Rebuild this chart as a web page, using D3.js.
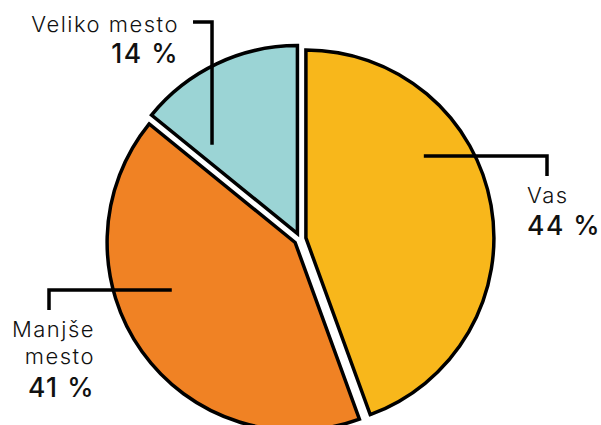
<!DOCTYPE html>
<meta charset="utf-8">
<script src="https://d3js.org/d3.v7.min.js"></script>
<style>
  body { margin: 0; background: #fff; }
  text { font-family: Inter, "Open Sans", sans-serif; fill: #111; }
</style>
<div id="my_dataviz"></div>
<script>

// data
var categories = ["Vas", "Manjše mesto", "Veliko mesto"];
var values = [44, 41, 14];
var valueLabels = ["44 %", "41 %", "14 %"];
var colors = ["#F8B71B", "#F08224", "#9BD4D5"];

var width = 601, height = 425;
var cx = 300, cy = 239, radius = 188, explode = 6;

var svg = d3.select("#my_dataviz")
  .append("svg")
    .attr("width", width)
    .attr("height", height);

var g = svg.append("g")
    .attr("transform", "translate(" + cx + "," + cy + ")");

var pie = d3.pie().sort(null).value(function(d) { return d; });
var arc = d3.arc().innerRadius(0).outerRadius(radius);
var arcs = pie(values);

g.selectAll("path")
  .data(arcs)
  .enter()
  .append("path")
    .attr("d", arc)
    .attr("fill", function(d, i) { return colors[i]; })
    .attr("stroke", "#000")
    .attr("stroke-width", 3.5)
    .attr("stroke-linejoin", "miter")
    .attr("transform", function(d) {
      var a = (d.startAngle + d.endAngle) / 2;
      return "translate(" + (Math.sin(a) * explode) + "," + (-Math.cos(a) * explode) + ")";
    });

// label layout: leader line start (polar, deg/radius), elbow, end, text
function polar(deg, r) {
  var a = deg * Math.PI / 180;
  return [Math.sin(a) * r, -Math.cos(a) * r];
}

var labelLayout = [
  { start: polar(56.2, 149), elbowX: 247, endDy: 20, anchor: "start", tx: 227, lines: [-36], valueY: -4 },
  { start: polar(248.3, 138), elbowX: -251, endDy: 20, anchor: "end", tx: -205, lines: [98, 125], valueY: 158 },
  { start: polar(317, 129), elbowY: -217, endDx: -19, anchor: "end", tx: -121, lines: [-207], valueY: -176 }
];

var nameLines = [["Vas"], ["Manjše", "mesto"], ["Veliko mesto"]];

labelLayout.forEach(function(l, i) {
  var s = l.start, pts;
  if (l.elbowX !== undefined) {
    pts = [s, [l.elbowX, s[1]], [l.elbowX, s[1] + l.endDy]];
  } else {
    pts = [s, [s[0], l.elbowY], [s[0] + l.endDx, l.elbowY]];
  }
  g.append("path")
    .attr("d", d3.line()(pts))
    .attr("fill", "none")
    .attr("stroke", "#000")
    .attr("stroke-width", 3.5)
    .attr("stroke-linejoin", "miter");

  nameLines[i].forEach(function(t, j) {
    g.append("text")
      .attr("x", l.tx)
      .attr("y", l.lines[j])
      .attr("text-anchor", l.anchor)
      .attr("font-size", 22)
      .attr("font-weight", 300)
      .attr("letter-spacing", 1.5)
      .text(t);
  });
  g.append("text")
    .attr("x", l.tx)
    .attr("y", l.valueY)
    .attr("text-anchor", l.anchor)
    .attr("font-size", 26.5)
    .attr("font-weight", 500)
    .attr("letter-spacing", 1.5)
    .text(valueLabels[i]);
});

</script>
